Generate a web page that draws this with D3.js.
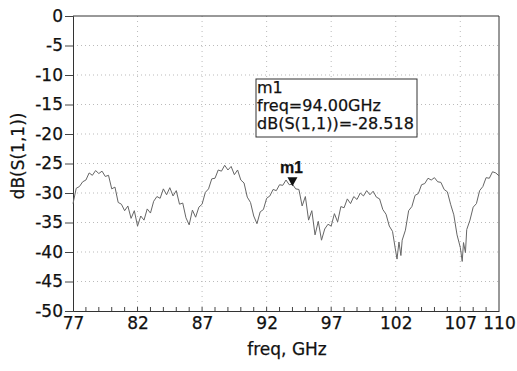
<!DOCTYPE html>
<html>
<head>
<meta charset="utf-8">
<script src="https://cdn.jsdelivr.net/npm/d3@7"></script>
<style>
  body { margin: 0; background: #fff; }
  svg text { font-family: "DejaVu Sans", sans-serif; fill: #111; stroke: #111; stroke-width: 0.25px; }
</style>
</head>
<body>
<div id="chart"></div>
<script>
// measured S11 trace, frequency in GHz
var freqs = [77.00,77.25,77.50,77.75,78.00,78.25,78.50,78.75,79.00,79.25,79.50,79.75,
  80.00,80.25,80.50,80.75,81.00,81.25,81.50,81.75,82.00,82.25,82.50,82.75,
  83.00,83.25,83.50,83.75,84.00,84.25,84.50,84.75,85.00,85.25,85.50,85.75,
  86.00,86.25,86.50,86.75,87.00,87.25,87.50,87.75,88.00,88.25,88.50,88.75,
  89.00,89.25,89.50,89.75,90.00,90.25,90.50,90.75,91.00,91.25,91.50,91.75,
  92.00,92.25,92.50,92.75,93.00,93.25,93.50,93.75,94.00,94.25,94.50,94.75,
  95.00,95.25,95.50,95.75,96.00,96.25,96.50,96.75,97.00,97.25,97.50,97.75,
  98.00,98.25,98.50,98.75,99.00,99.25,99.50,99.75,100.00,100.25,100.50,100.75,
  101.00,101.25,101.50,101.75,102.00,102.10,102.25,102.40,102.50,102.75,
  103.00,103.25,103.50,103.75,104.00,104.25,104.50,104.75,105.00,105.25,105.50,105.75,
  106.00,106.25,106.50,106.75,107.00,107.15,107.25,107.40,107.50,107.75,
  108.00,108.25,108.50,108.75,109.00,109.25,109.50,109.75,110.00];
var s11 = [-31.8,-29.2,-28.9,-28.1,-27.8,-26.6,-27.0,-26.2,-26.7,-26.3,-27.2,-27.0,
  -29.3,-29.0,-31.6,-31.9,-33.0,-32.2,-34.3,-33.0,-35.6,-33.9,-34.6,-32.7,
  -33.4,-31.4,-30.6,-30.9,-29.3,-30.3,-29.1,-30.5,-29.6,-31.9,-31.7,-34.2,
  -35.4,-32.9,-34.1,-32.4,-31.9,-29.9,-29.3,-27.6,-27.5,-26.1,-26.3,-25.3,
  -26.1,-25.5,-26.9,-26.1,-27.8,-28.3,-30.7,-31.6,-33.9,-35.2,-33.2,-32.8,
  -30.9,-30.5,-29.4,-29.6,-28.6,-28.7,-27.8,-28.6,-28.5,-29.3,-29.4,-32.2,
  -30.6,-34.6,-33.0,-37.1,-34.8,-38.0,-36.1,-35.3,-35.6,-33.5,-34.9,-32.3,
  -32.5,-31.0,-31.8,-30.6,-31.1,-30.0,-30.5,-29.6,-30.3,-29.7,-30.7,-31.0,
  -32.8,-33.6,-35.6,-36.5,-39.9,-41.2,-38.3,-40.6,-38.0,-36.3,
  -33.0,-32.3,-30.4,-30.1,-28.6,-28.4,-27.5,-27.8,-27.4,-28.1,-28.2,-29.4,
  -29.8,-31.9,-33.7,-37.1,-39.2,-41.6,-38.4,-40.1,-36.2,-34.6,
  -32.4,-31.8,-29.6,-28.9,-27.4,-27.5,-26.4,-26.6,-27.1];
var xTickLabels = [77, 82, 87, 92, 97, 102, 107, 110];
var yTickLabels = [0, -5, -10, -15, -20, -25, -30, -35, -40, -45, -50];
var marker = { name: 'm1', freq: 94.00, value: -28.518 };

var width = 517, height = 371;
var margin = { top: 16, right: 18, bottom: 60, left: 73 };

var svg = d3.select('#chart').append('svg')
    .attr('width', width)
    .attr('height', height);

var x = d3.scaleLinear().domain([77, 110]).range([margin.left, width - margin.right]);
var y = d3.scaleLinear().domain([-50, 0]).range([height - margin.bottom, margin.top]);

// grid
svg.append('g')
  .selectAll('line')
  .data(yTickLabels.filter(function(d) { return d > -50 && d < 0; }))
  .join('line')
    .attr('x1', x(77)).attr('x2', x(110))
    .attr('y1', function(d) { return y(d); }).attr('y2', function(d) { return y(d); })
    .attr('stroke', '#bbb').attr('stroke-width', 1).attr('stroke-dasharray', '1,3');
svg.append('g')
  .selectAll('line')
  .data(xTickLabels.filter(function(d) { return d > 77 && d < 110; }))
  .join('line')
    .attr('x1', function(d) { return x(d); }).attr('x2', function(d) { return x(d); })
    .attr('y1', y(0)).attr('y2', y(-50))
    .attr('stroke', '#bbb').attr('stroke-width', 1).attr('stroke-dasharray', '1,4');

// axes (plain hyphen for negatives, as in the original)
var fmt = function(d) { return String(d); };
var yAxis = d3.axisLeft(y).tickValues(yTickLabels).tickSize(8).tickPadding(2).tickFormat(fmt);
var gy = svg.append('g').attr('transform', 'translate(' + margin.left + ',0)').call(yAxis);
gy.selectAll('text').style('font-size', '17px');

var xAxis = d3.axisBottom(x).tickValues(xTickLabels).tickSize(0).tickPadding(6).tickFormat(fmt);
var gx = svg.append('g').attr('transform', 'translate(0,' + y(-50) + ')').call(xAxis);
gx.selectAll('text').style('font-size', '17px');

svg.selectAll('.domain').attr('stroke', '#333');
svg.selectAll('.tick line').attr('stroke', '#444');

// minor ticks every 1 GHz, pointing inward
svg.append('g')
  .selectAll('line')
  .data(d3.range(78, 110))
  .join('line')
    .attr('x1', function(d) { return x(d); }).attr('x2', function(d) { return x(d); })
    .attr('y1', y(-50)).attr('y2', y(-50) - 4)
    .attr('stroke', '#444');

// top and right frame
svg.append('line')
  .attr('x1', x(77)).attr('x2', x(110)).attr('y1', y(0)).attr('y2', y(0))
  .attr('stroke', '#333');
svg.append('line')
  .attr('x1', x(110)).attr('x2', x(110)).attr('y1', y(0)).attr('y2', y(-50))
  .attr('stroke', '#333');

// trace
var line = d3.line()
    .x(function(d, i) { return x(freqs[i]); })
    .y(function(d) { return y(d); });
svg.append('path')
  .datum(s11)
  .attr('d', line)
  .attr('fill', 'none')
  .attr('stroke', '#666')
  .attr('stroke-width', 1);

// marker
var mx = x(marker.freq), my = y(marker.value);
svg.append('path')
  .attr('d', 'M' + (mx - 5) + ',' + (my - 7) + 'L' + (mx + 5) + ',' + (my - 7) + 'L' + mx + ',' + (my + 2) + 'Z')
  .attr('fill', '#111');
svg.append('text')
  .attr('x', mx - 1).attr('y', my - 11)
  .attr('text-anchor', 'middle')
  .style('font-family', 'Arial, "Liberation Sans", sans-serif')
  .style('font-weight', 'bold')
  .style('font-size', '16px')
  .text(marker.name);

// marker readout box
var bx = 256, by = 79;
svg.append('rect')
  .attr('x', bx).attr('y', by).attr('width', 161).attr('height', 58)
  .attr('fill', '#fff').attr('stroke', '#333');
var lines = [marker.name, 'freq=' + marker.freq.toFixed(2) + 'GHz',
  'dB(S(1,1))=' + marker.value.toFixed(3)];
svg.append('g').selectAll('text')
  .data(lines)
  .join('text')
    .attr('x', bx + 1)
    .attr('y', function(d, i) { return by + 14 + i * 18; })
    .style('font-size', '16px')
    .text(function(d) { return d; });

// axis titles
svg.append('text')
  .attr('x', 287).attr('y', 355)
  .attr('text-anchor', 'middle')
  .style('font-size', '17px')
  .text('freq, GHz');
svg.append('text')
  .attr('transform', 'translate(24,156) rotate(-90)')
  .attr('text-anchor', 'middle')
  .style('font-size', '17px')
  .text('dB(S(1,1))');
</script>
</body>
</html>
